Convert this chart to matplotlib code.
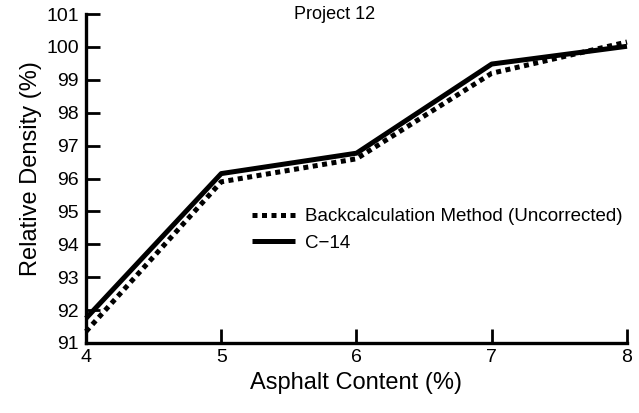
import matplotlib.pyplot as plt

# asphalt content vs relative density, project 12
asphalt = [4, 5, 6, 7, 8]
backcalc = [91.35, 95.9, 96.6, 99.2, 100.15]
c14 = [91.75, 96.15, 96.77, 99.48, 100.02]

yticks = list(range(91, 102))
xticks = [4, 5, 6, 7, 8]

plt.rcParams['font.family'] = ['Liberation Sans', 'DejaVu Sans']

fig = plt.figure(figsize=(6.39, 4.13), dpi=100)
ax = fig.add_axes([0.1346, 0.1695, 0.8466, 0.7965])

ax.plot(asphalt, backcalc, color='k', linewidth=3.6, linestyle=(0, (1, 0.9)),
        label='Backcalculation Method (Uncorrected)', clip_on=False)
ax.plot(asphalt, c14, color='k', linewidth=3.6, solid_capstyle='butt',
        label='C\u221214', clip_on=False)

ax.set_xlim(4, 8)
ax.set_ylim(91, 101)
ax.set_xticks(xticks)
ax.set_yticks(yticks)
ax.tick_params(direction='in', length=10, width=2, labelsize=14)
ax.tick_params(axis='y', pad=5)
ax.tick_params(axis='x', pad=4)

for side in ['top', 'right']:
    ax.spines[side].set_visible(False)
ax.spines['left'].set_linewidth(2.4)
ax.spines['bottom'].set_linewidth(2.4)

ax.set_xlabel('Asphalt Content (%)', fontsize=17, labelpad=5)
ax.set_ylabel('Relative Density (%)', fontsize=17)
ax.yaxis.set_label_coords(-0.081, 0.53)
ax.text(0.46, 1.0, 'Project 12', transform=ax.transAxes, ha='center', va='center',
        fontsize=13)

ax.legend(loc='upper left', bbox_to_anchor=(252 / 639, 1 - 208 / 413),
          bbox_transform=fig.transFigure, frameon=False, borderpad=0,
          borderaxespad=0, fontsize=13.5, handlelength=2.3,
          handletextpad=0.55, labelspacing=0.5)

fig.savefig('out.png')
